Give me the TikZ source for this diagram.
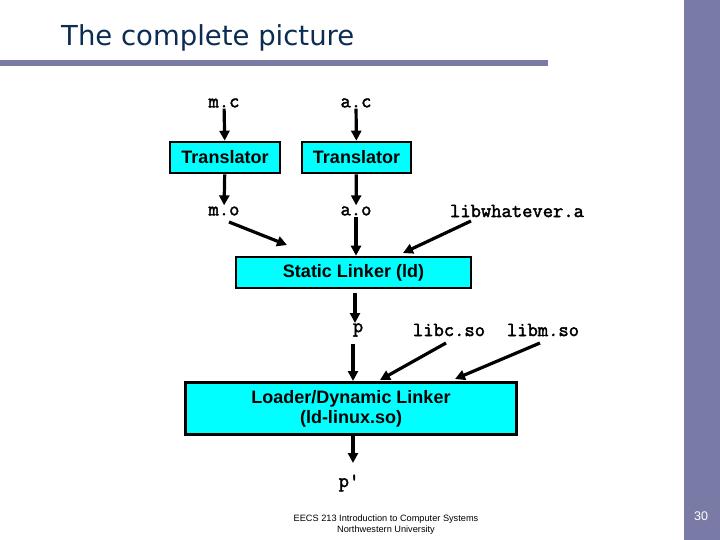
\documentclass[tikz,border=0pt]{standalone}
\usepackage{fontspec}
\setmainfont{Liberation Sans}
\newfontfamily\courb{Latin Modern Mono}[FakeBold=2.2]
\newfontfamily\titlefont{DejaVu Sans}
\usetikzlibrary{arrows.meta,calc}
\definecolor{barblue}{RGB}{122,122,166}
\definecolor{titleblue}{RGB}{12,44,84}
\definecolor{boxcyan}{RGB}{0,255,255}
\tikzset{
  arr/.style={line width=3.2pt,-{Triangle[length=10pt,width=10pt]}},
  procbox/.style={draw=black,line width=2.6pt,fill=boxcyan,font=\fontsize{18}{20}\selectfont\bfseries,align=center,inner sep=0pt},
  file/.style={font=\courb\fontsize{20}{22}\selectfont,inner sep=1pt},
}
\begin{document}
\begin{tikzpicture}[x=1pt,y=-1pt]
\useasboundingbox (0,0) rectangle (720,540);
\fill[barblue] (684,0) rectangle (720,540);
\fill[barblue] (0,60) rectangle (548,66);
\node[anchor=base west,inner sep=0pt,text=titleblue,font=\titlefont\fontsize{27.5}{30}\selectfont] (title) at (61,46) {The complete picture};

\node[file] (mc) at (224,103) {m.c};
\node[file] (ac) at (356,103) {a.c};
\node[procbox,minimum width=110pt,minimum height=31pt] (t1) at (225,157.5) {Translator};
\node[procbox,minimum width=109pt,minimum height=31pt] (t2) at (356.5,157.5) {Translator};
\node[file] (mo) at (224,211) {m.o};
\node[file] (ao) at (356,211) {a.o};
\node[file] (lw) at (517,211) {libwhatever.a};
\node[procbox,minimum width=235pt,minimum height=31pt] (sl) at (353.5,272.5) {Static Linker (ld)};
\node[file] (p) at (358,330) {p};
\node[file] (libc) at (449,330) {libc.so};
\node[file] (libm) at (543,330) {libm.so};
\node[procbox,minimum width=331pt,minimum height=52pt,font=\fontsize{18}{20}\selectfont\bfseries] (ld) at (351,408.5) {Loader/Dynamic Linker\\(ld-linux.so)};
\node[file] (pp) at (349,483) {p'};

\draw[arr] (mc) -- (t1);
\draw[arr] (ac) -- (t2);
\draw[arr] (t1) -- (mo);
\draw[arr] (t2) -- (ao);

\coordinate (moS) at (229,222);
\coordinate (lwS) at (471,221);
\coordinate (slL) at (287,245);
\coordinate (slR) at (403,253);
\draw[arr] (moS) -- (slL);
\draw[arr] (ao.south) -- (ao.south |- sl.north);
\draw[arr] (lwS) -- (slR);
\coordinate (slp) at (355,293);
\coordinate (pN) at (355,323);
\draw[arr] (slp) -- (pN);

\coordinate (pS) at (353,344);
\coordinate (ldP) at (353,381);
\coordinate (lcS) at (446,343);
\coordinate (ldC) at (380,380);
\coordinate (lmS) at (540,343);
\coordinate (ldM) at (455,379);
\draw[arr] (pS) -- (ldP);
\draw[arr] (lcS) -- (ldC);
\draw[arr] (lmS) -- (ldM);
\coordinate (ppN) at (353,463);
\draw[arr] (ld.south -| ppN) -- (ppN);

\node[align=center,font=\fontsize{9.2}{11}\selectfont,inner sep=0pt] (foot) at (386,524.5) {EECS 213 Introduction to Computer Systems\\Northwestern University};
\node[text=white,font=\fontsize{12.5}{14}\selectfont,inner sep=0pt] (num) at (701,516) {30};
\end{tikzpicture}
\end{document}
